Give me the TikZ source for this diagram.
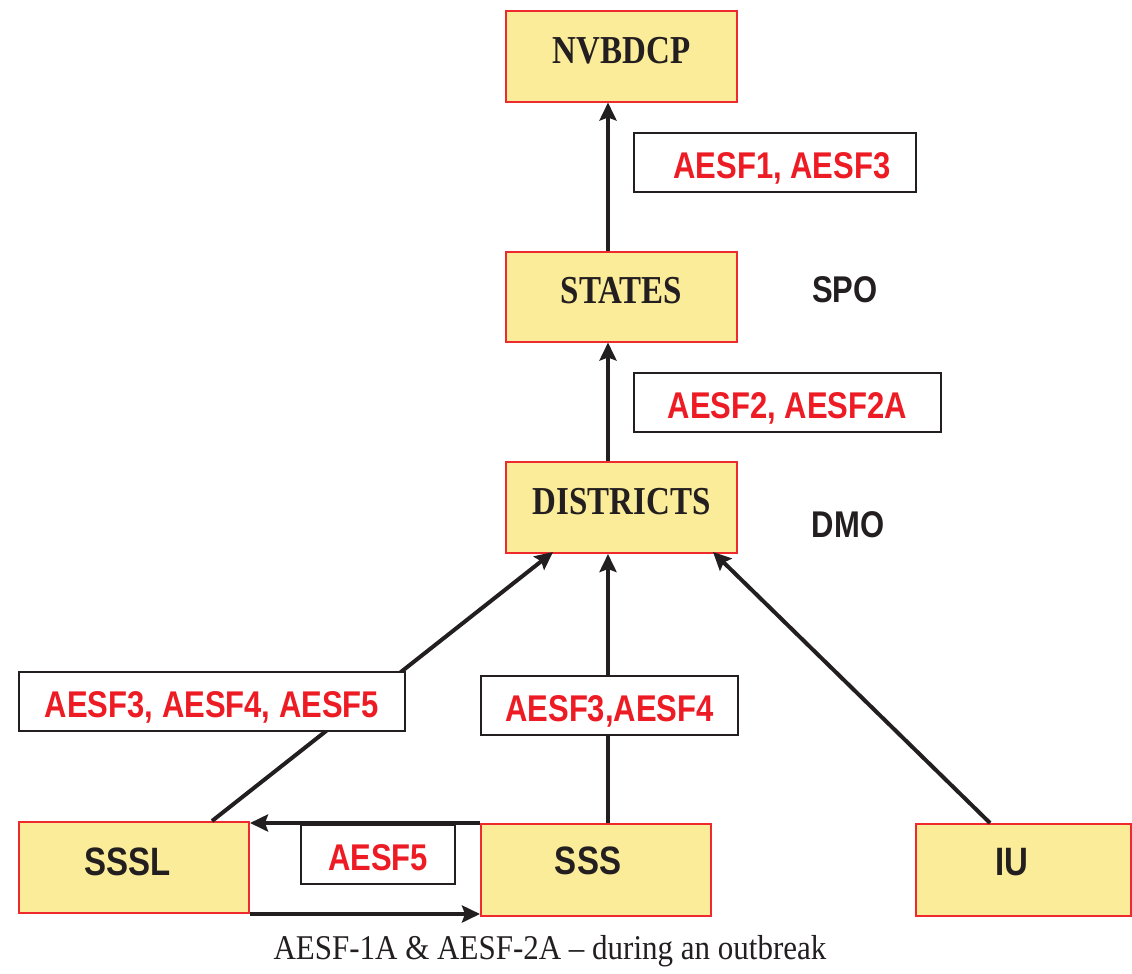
\documentclass[tikz,border=0pt]{standalone}
\usepackage{fontspec}
\setmainfont{Liberation Serif}
\setsansfont{Liberation Sans}
\usetikzlibrary{arrows.meta,calc}
\definecolor{boxfill}{HTML}{FBEC9A}
\definecolor{boxred}{HTML}{EE2A2F}
\definecolor{txtred}{HTML}{ED1C24}
\definecolor{ink}{HTML}{231F20}
\newcommand{\tallt}[1]{\scalebox{1}[1.2]{#1}}
\newcommand{\boxtxt}[3]{\raisebox{#1}{\tallt{#3}}\kern#2}
\newcommand{\lbltxt}[2]{\raisebox{-16pt}[0pt][0pt]{\tallt{#2}}\kern#1}
\tikzset{
  unit/.style={draw=boxred, line width=2pt, fill=boxfill, inner sep=0pt,
    minimum width=231pt, minimum height=90pt, text=ink},
  serifname/.style={font=\fontsize{33}{36}\selectfont\bfseries},
  sansname/.style={font=\fontsize{33}{36}\selectfont\sffamily\bfseries},
  lbl/.style={draw=ink, line width=2pt, fill=white, inner sep=0pt,
    minimum height=59pt, text=txtred, font=\fontsize{31}{34}\selectfont\sffamily\bfseries},
  role/.style={text=ink, font=\fontsize{31}{34}\selectfont\sffamily\bfseries},
  flow/.style={draw=ink, line width=4pt, -{Stealth[length=18pt,width=17pt,inset=3pt]}},
}
\begin{document}
\begin{tikzpicture}[x=1pt,y=-1pt]
\useasboundingbox (0,0) rectangle (1132,974);
% main boxes
\node[unit, serifname] (nv) at (621.5,56.5) {\boxtxt{12pt}{0pt}{NVBDCP}};
\node[unit, serifname] (st) at (621.5,296.5) {\boxtxt{12pt}{0pt}{STATES}};
\node[unit, serifname, minimum height=91pt] (di) at (621.5,507.5) {\boxtxt{13pt}{0pt}{DISTRICTS}};
\node[unit, sansname, minimum width=230pt, minimum height=91pt] (sssl) at (134,867.5) {\boxtxt{12pt}{12pt}{SSSL}};
\node[unit, sansname, minimum width=230pt, minimum height=92pt] (sss) at (596,870) {\boxtxt{18pt}{16pt}{SSS}};
\node[unit, sansname, minimum width=215pt, minimum height=92pt] (iu) at (1023.5,870) {\boxtxt{16pt}{24pt}{IU}};
% roles
\node[role] (spo) at (845,290) {\tallt{SPO}};
\node[role] (dmo) at (848,525) {\tallt{DMO}};
% connectors
\draw[flow] ([xshift=-13.5pt]st.north) -- ([xshift=-13.5pt]nv.south);
\draw[flow] ([xshift=-13.5pt]di.north) -- ([xshift=-13.5pt]st.south);
\draw[flow] ([xshift=12pt]sss.north) -- ([xshift=-13.5pt]di.south);
\draw[flow] ([xshift=78pt]sssl.north) -- ([xshift=-68.5pt,yshift=2pt]di.south);
\draw[flow] ([xshift=-33.5pt]iu.north) -- ([xshift=91.5pt,yshift=2pt]di.south);
\draw[flow] (sss.north west) -- (sssl.east |- sss.north west);
\draw[flow] (sssl.south east) -- (sss.west |- sssl.south east);
% labels
\node[lbl, minimum width=282pt] (l1) at (775,162.5) {\lbltxt{-14pt}{AESF1, AESF3}};
\node[lbl, minimum width=307pt] (l2) at (787.5,402.5) {\lbltxt{0pt}{AESF2, AESF2A}};
\node[lbl, minimum width=386pt] (l3) at (212,701.5) {\lbltxt{0pt}{AESF3, AESF4, AESF5}};
\node[lbl, minimum width=257pt] (l4) at (609.5,705.5) {\lbltxt{0pt}{AESF3,AESF4}};
\node[lbl, minimum width=154pt] (l5) at (378,854.5) {\lbltxt{0pt}{AESF5}};
% caption
\node[text=ink, font=\fontsize{31}{34}\selectfont] (cap) at (550,951) {\scalebox{1}[1.12]{AESF-1A \& AESF-2A -- during an outbreak}};
\end{tikzpicture}
\end{document}
